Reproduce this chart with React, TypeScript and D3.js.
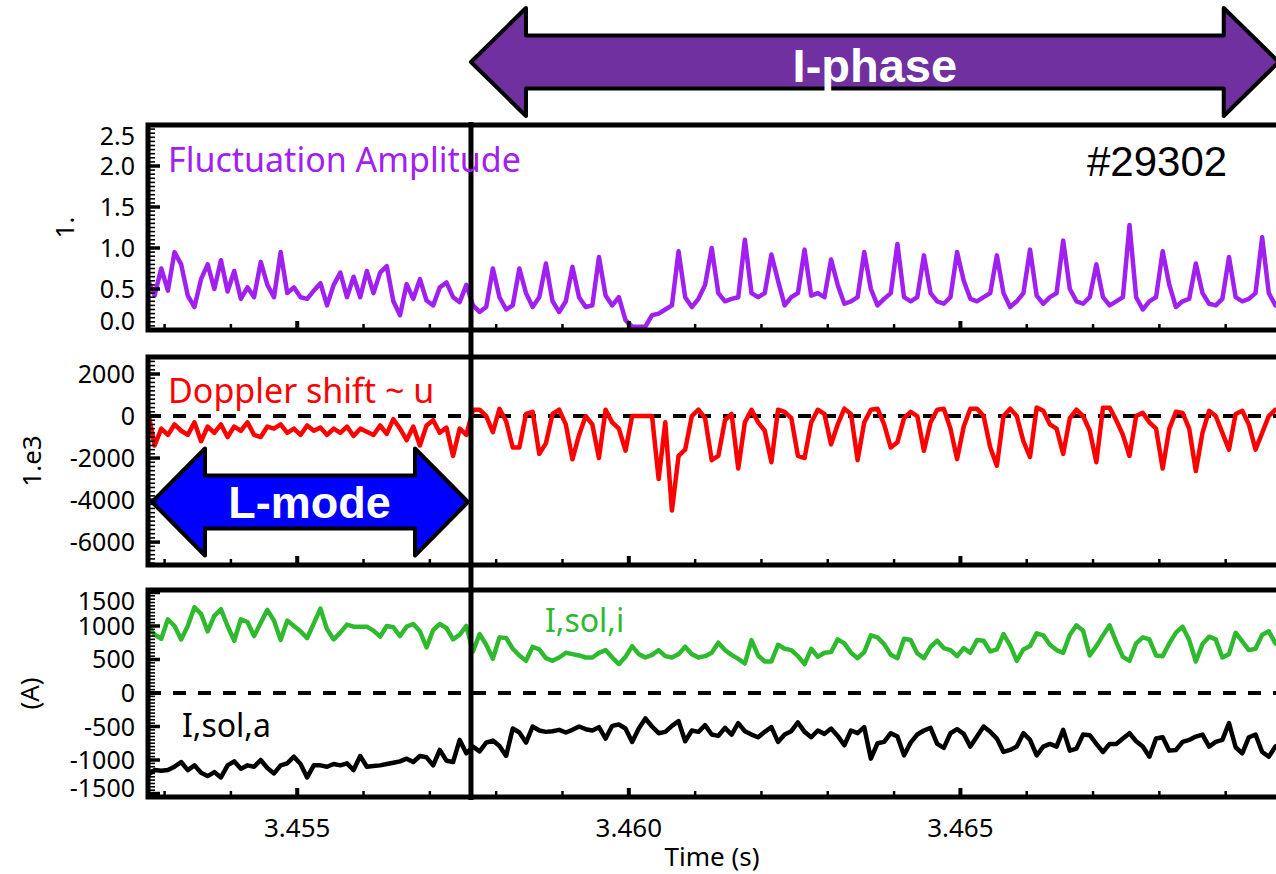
import React from "react";
import * as d3 from "d3";

// time base of the sampled signals (s)
const t0 = 3.45275;
const dt = 0.0001;
const tEnd = 3.47;
const tTransition = 3.45762; // L -> I-phase
const tIphaseEnd = 3.4698;

// fluctuation amplitude (a.u.)
const amplitude = [
  0.61, 0.42, 0.75, 0.48, 0.95, 0.80, 0.42, 0.28, 0.62, 0.80,
  0.50, 0.85, 0.47, 0.72, 0.38, 0.52, 0.40, 0.83, 0.55, 0.40,
  0.95, 0.45, 0.52, 0.40, 0.38, 0.48, 0.57, 0.30, 0.55, 0.70,
  0.40, 0.65, 0.40, 0.72, 0.45, 0.70, 0.78, 0.35, 0.18, 0.56,
  0.38, 0.62, 0.36, 0.30, 0.52, 0.58, 0.40, 0.34, 0.55, 0.30,
  0.22, 0.28, 0.75, 0.40, 0.25, 0.30, 0.75, 0.45, 0.28, 0.40,
  0.81, 0.35, 0.22, 0.35, 0.77, 0.40, 0.28, 0.30, 0.89, 0.42,
  0.30, 0.40, 0.12, 0.04, 0.04, 0.04, 0.18, 0.20, 0.25, 0.30,
  0.96, 0.40, 0.28, 0.38, 0.55, 1.00, 0.45, 0.35, 0.38, 0.40,
  1.10, 0.45, 0.40, 0.45, 0.92, 0.60, 0.30, 0.40, 0.45, 0.98,
  0.42, 0.45, 0.40, 0.86, 0.55, 0.32, 0.35, 0.40, 0.95, 0.50,
  0.30, 0.38, 0.45, 1.05, 0.40, 0.35, 0.40, 0.91, 0.45, 0.35,
  0.32, 0.40, 0.95, 0.60, 0.38, 0.35, 0.40, 0.45, 0.91, 0.45,
  0.28, 0.35, 0.45, 0.98, 0.42, 0.32, 0.40, 0.45, 1.09, 0.50,
  0.35, 0.32, 0.40, 0.80, 0.40, 0.30, 0.35, 0.40, 1.28, 0.40,
  0.25, 0.35, 0.40, 0.96, 0.55, 0.28, 0.35, 0.38, 0.81, 0.45,
  0.32, 0.30, 0.38, 0.89, 0.40, 0.35, 0.38, 0.45, 1.13, 0.45,
  0.30, 0.40, 0.35,
];

// doppler shift
const doppler = [
  200, -1400, -600, -900, -400, -700, -900, -300, -1200, -500,
  -800, -400, -1000, -500, -700, -300, -900, -1000, -500, -600,
  -400, -800, -600, -900, -450, -700, -550, -900, -600, -800,
  -500, -950, -600, -750, -900, -450, -850, -150, -600, -1150,
  -500, -1400, -450, -200, -800, -550, -1900, -600, -900, 300,
  300, 0, -770, 350, -250, -1500, -1500, 100, 200, -1800,
  -1300, 100, 300, -400, -2060, -900, 0, -400, -2000, 300,
  -300, -600, -1650, 0, 0, 0, 0, -3000, -300, -4500,
  -1900, -1600, 0, 300, -100, -2100, -1900, -200, 100, -2500,
  -300, 300, -300, -700, -2200, 300, 200, -100, -1900, -2000,
  -300, 300, 100, -1350, -400, 350, 100, -2100, -300, 300,
  350, -400, -1500, -1250, -100, 200, 0, -1650, -300, 300,
  350, -600, -2050, -500, 350, 350, 0, -1500, -2360, 0,
  350, 0, -1200, -1950, 400, 250, -400, -600, -1800, -100,
  300, 0, -700, -2200, 400, 400, -200, -900, -1900, 0,
  150, -300, -600, -2500, -600, 200, 150, -600, -2620, -800,
  250, 0, -800, -1600, 100, 250, -400, -1600, -800, 0,
  300, 350, 350,
];

// I,sol,i (A)
const iSolI = [
  1000, 870, 810, 1100, 1000, 800, 1000, 1280, 1180, 920,
  1150, 1250, 1000, 780, 1100, 1060, 850, 1050, 1240, 1080,
  790, 1080, 1000, 920, 820, 1040, 1260, 950, 800, 900,
  1020, 990, 990, 990, 930, 840, 1000, 980, 850, 990,
  1030, 920, 680, 940, 1030, 970, 800, 870, 1000, 620,
  880, 720, 510, 830, 820, 660, 560, 480, 690, 650,
  520, 480, 530, 600, 580, 560, 530, 530, 600, 640,
  530, 430, 540, 700, 580, 530, 570, 640, 550, 530,
  580, 690, 580, 530, 550, 600, 750, 640, 570, 510,
  440, 790, 560, 470, 470, 720, 660, 640, 550, 430,
  660, 540, 600, 610, 800, 740, 600, 520, 610, 860,
  830, 730, 570, 520, 810, 790, 590, 520, 690, 780,
  670, 640, 550, 670, 600, 790, 780, 620, 650, 880,
  710, 480, 650, 700, 890, 860, 720, 640, 600, 870,
  1010, 930, 560, 700, 860, 1010, 760, 540, 480, 740,
  830, 800, 560, 550, 740, 900, 990, 790, 470, 730,
  840, 800, 530, 580, 900, 770, 640, 660, 870, 920,
  740, 700, 850,
];

// I,sol,a (A)
const iSolA = [
  -1220, -1150, -1160, -1150, -1100, -1030, -1150, -1080, -1190, -1240,
  -1180, -1260, -1080, -1020, -1130, -1080, -1100, -1000, -1120, -1200,
  -1080, -1050, -950, -1060, -1260, -1080, -1080, -1100, -1060, -1080,
  -1050, -1150, -940, -1100, -1090, -1080, -1060, -1040, -1020, -980,
  -1030, -940, -960, -1080, -850, -1010, -1030, -700, -900, -800,
  -870, -740, -710, -790, -940, -530, -590, -740, -500, -560,
  -580, -570, -550, -590, -550, -500, -540, -560, -510, -680,
  -490, -470, -530, -730, -530, -380, -500, -600, -580, -490,
  -420, -720, -560, -580, -480, -620, -640, -520, -620, -450,
  -570, -620, -660, -580, -510, -730, -620, -570, -440, -580,
  -660, -560, -610, -530, -640, -780, -560, -600, -510, -980,
  -750, -730, -600, -650, -930, -740, -620, -560, -520, -760,
  -820, -600, -540, -610, -800, -650, -500, -580, -680, -880,
  -850, -800, -600, -700, -930, -800, -760, -800, -550, -860,
  -830, -620, -630, -760, -880, -760, -760, -680, -600, -720,
  -800, -950, -680, -660, -860, -850, -730, -700, -650, -620,
  -800, -730, -700, -450, -810, -900, -660, -620, -880, -950,
  -800, -750, -850,
];

const xTicks = [3.455, 3.46, 3.465];
const ampTicks = [0, 0.5, 1, 1.5, 2, 2.5];
const dopTicks = [-6000, -4000, -2000, 0, 2000];
const curTicks = [-1500, -1000, -500, 0, 500, 1000, 1500];

const W = 1276;
const H = 874;
const LEFT = 148;
const SANS = "'Noto Sans', 'Open Sans', sans-serif";
const ARIAL = "'Liberation Sans', Arial, sans-serif";

const x = d3.scaleLinear().domain([t0, tEnd]).range([LEFT, 1292]);

const panels = [
  {
    key: "amp", top: 125, bottom: 330, domain: [0, 2.5], ticks: ampTicks, minor: 0.05, major: 0.5,
    fmt: d3.format(".1f"), title: "1.", titleX: 65, zero: false,
    series: [{ data: amplitude, color: "#a020f0" }],
  },
  {
    key: "dop", top: 357, bottom: 565, domain: [-7090, 2810], ticks: dopTicks, minor: 200, major: 2000,
    fmt: (d: number) => String(d), title: "1.e3", titleX: 32, zero: true,
    series: [{ data: doppler, color: "#ff0000" }],
  },
  {
    key: "cur", top: 590, bottom: 797, domain: [-1552, 1537], ticks: curTicks, minor: 50, major: 500,
    fmt: (d: number) => String(d), title: "(A)", titleX: 30, zero: true,
    series: [{ data: iSolI, color: "#2fb92f" }, { data: iSolA, color: "#000000" }],
  },
];

function doubleArrow(x0: number, x1: number, cy: number, head: number, headHalf: number, shaftHalf: number) {
  const pts: [number, number][] = [
    [x0, cy], [x0 + head, cy - headHalf], [x0 + head, cy - shaftHalf],
    [x1 - head, cy - shaftHalf], [x1 - head, cy - headHalf], [x1, cy],
    [x1 - head, cy + headHalf], [x1 - head, cy + shaftHalf],
    [x0 + head, cy + shaftHalf], [x0 + head, cy + headHalf],
  ];
  return d3.line()(pts) + "Z";
}

function Panel({ p }: { p: typeof panels[number] }) {
  const y = d3.scaleLinear().domain(p.domain).range([p.bottom, p.top]);
  const line = d3.line<number>().x((_, i) => x(t0 + i * dt)).y((d) => y(d));
  const ratio = Math.round(p.major / p.minor);
  const minors: number[] = [];
  for (let k = Math.ceil(p.domain[0] / p.minor); k <= Math.floor(p.domain[1] / p.minor); k++) {
    if (k % ratio !== 0) minors.push(k * p.minor);
  }
  const xMinor: number[] = [];
  for (let k = 3453; k <= 3469; k++) if (k % 5 !== 0) xMinor.push(k / 1000);
  // labels at the very ends are pulled inside the frame
  const labelY = (v: number) => Math.min(Math.max(y(v), p.top + 11), p.bottom - 9);
  return (
    <g>
      {p.zero && (
        <line x1={LEFT} x2={W} y1={y(0)} y2={y(0)} stroke="#000" strokeWidth={4} strokeDasharray="13 12" />
      )}
      {p.series.map((s, i) => (
        <path key={i} d={line(s.data) || ""} fill="none" stroke={s.color} strokeWidth={4.5} strokeLinejoin="round" />
      ))}
      <rect x={LEFT} y={p.top} width={1400} height={p.bottom - p.top} fill="none" stroke="#000" strokeWidth={5} />
      {minors.map((v) => (
        <line key={"m" + v} x1={LEFT} x2={LEFT + 7} y1={y(v)} y2={y(v)} stroke="#000" strokeWidth={1.6} />
      ))}
      {p.ticks.map((v) => (
        <g key={"t" + v}>
          <line x1={LEFT} x2={LEFT + 12} y1={y(v)} y2={y(v)} stroke="#000" strokeWidth={3.5} />
          <text x={135} y={labelY(v)} dy="0.36em" textAnchor="end" fontFamily={SANS} fontSize={25}>
            {p.fmt(v)}
          </text>
        </g>
      ))}
      {xMinor.map((t) => (
        <line key={"xm" + t} x1={x(t)} x2={x(t)} y1={p.bottom} y2={p.bottom - 6} stroke="#000" strokeWidth={2.5} />
      ))}
      {xTicks.map((t) => (
        <line key={"xt" + t} x1={x(t)} x2={x(t)} y1={p.bottom} y2={p.bottom - 9} stroke="#000" strokeWidth={4} />
      ))}
      <text
        transform={`translate(${p.titleX},${(p.top + p.bottom) / 2}) rotate(-90)`}
        textAnchor="middle" dy="0.36em" fontFamily={SANS} fontSize={26}
      >
        {p.title}
      </text>
    </g>
  );
}

export default function App() {
  const xL = x(tTransition);
  return (
    <svg width={W} height={H} style={{ position: "absolute", left: 0, top: 0, display: "block", background: "#fff" }}>
      {panels.map((p) => <Panel key={p.key} p={p} />)}

      {/* transition marker */}
      <line x1={xL} x2={xL} y1={122} y2={800} stroke="#000" strokeWidth={5} />

      {/* x axis labels */}
      {xTicks.map((t) => (
        <text key={t} x={x(t)} y={837} textAnchor="middle" fontFamily={SANS} fontSize={26}>
          {d3.format(".3f")(t)}
        </text>
      ))}
      <text x={712} y={866} textAnchor="middle" fontFamily={SANS} fontSize={26}>Time (s)</text>

      {/* annotations */}
      <text x={168} y={172} fontFamily={SANS} fontSize={34} fill="#a020f0">Fluctuation Amplitude</text>
      <text x={1087} y={176} fontFamily={ARIAL} fontSize={42} fill="#000">#29302</text>
      <text x={168} y={403} fontFamily={SANS} fontSize={34} fill="#ff0000">Doppler shift ~ u</text>
      <text x={545} y={632} fontFamily={SANS} fontSize={32} fill="#2fb92f">I,sol,i</text>
      <text x={182} y={737} fontFamily={SANS} fontSize={32} fill="#000">I,sol,a</text>

      {/* I-phase arrow */}
      <path
        d={doubleArrow(xL, x(tIphaseEnd), 62, 55, 54, 26.5)}
        fill="#7030a0" stroke="#000" strokeWidth={4} strokeLinejoin="round"
      />
      <text x={(xL + x(tIphaseEnd)) / 2} y={82} textAnchor="middle" fontFamily={ARIAL} fontWeight="bold" fontSize={47} fill="#fff">
        I-phase
      </text>

      {/* L-mode arrow */}
      <path
        d={doubleArrow(x(t0) + 4, xL - 3, 502, 53, 53.5, 26.5)}
        fill="#0000ff" stroke="#000" strokeWidth={4} strokeLinejoin="round"
      />
      <text x={(x(t0) + xL) / 2} y={518} textAnchor="middle" fontFamily={ARIAL} fontWeight="bold" fontSize={45} fill="#fff">
        L-mode
      </text>
    </svg>
  );
}
